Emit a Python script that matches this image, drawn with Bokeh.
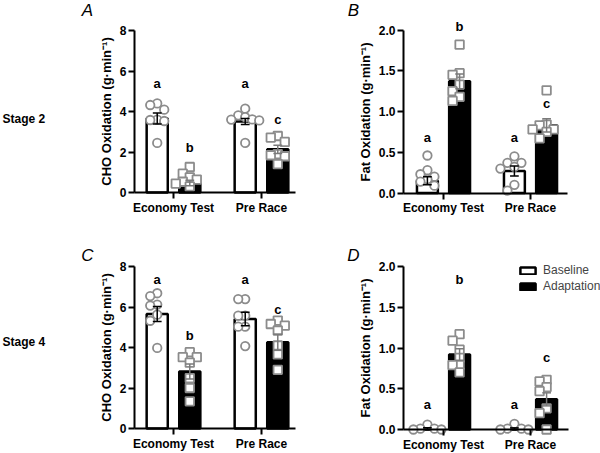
import numpy as np
from bokeh.plotting import figure
from bokeh.layouts import column, row
from bokeh.models import (Range1d, FixedTicker, Label, LabelSet, Legend, LegendItem,
                          NumeralTickFormatter, ColumnDataSource)
from bokeh.core.properties import value
from bokeh.embed import file_html
from bokeh.resources import INLINE

# ---------------- data ----------------
groups = ["Economy Test", "Pre Race"]
conditions = ["Baseline", "Adaptation"]

# Panel A: Stage 2, CHO oxidation (g/min)
A_base_mean = [3.65, 3.51]
A_base_sem = [0.27, 0.15]
A_adapt_mean = [0.47, 2.13]
A_adapt_sem = [0.14, 0.20]
A_base_econ = [4.40, 4.32, 4.09, 3.60, 3.58, 3.53, 2.45]
A_adapt_econ = [1.26, 0.93, 0.75, 0.64, 0.53, 0.44, 0.30]
A_base_pre = [4.14, 3.81, 3.72, 3.61, 3.60, 3.56, 2.45]
A_adapt_pre = [2.79, 2.71, 2.50, 1.90, 1.84, 1.79, 1.40]
A_letters_base = ["a", "a"]
A_letters_base_y = [5.37, 5.37]
A_letters_adapt = ["b", "c"]
A_letters_adapt_y = [2.20, 3.60]

# Panel B: Stage 2, Fat oxidation (g/min)
B_base_mean = [0.15, 0.27]
B_base_sem = [0.05, 0.06]
B_adapt_mean = [1.37, 0.83]
B_adapt_sem = [0.09, 0.08]
B_base_econ = [0.46, 0.28, 0.23, 0.20, 0.17, 0.14, 0.09]
B_adapt_econ = [1.82, 1.47, 1.45, 1.33, 1.25, 1.18, 1.13]
B_base_pre = [0.45, 0.37, 0.37, 0.32, 0.30, 0.10, 0.03]
B_adapt_pre = [1.26, 0.84, 0.83, 0.78, 0.78, 0.75, 0.67]
B_letters_base = ["a", "a"]
B_letters_base_y = [0.68, 0.68]
B_letters_adapt = ["b", "c"]
B_letters_adapt_y = [2.04, 1.10]

# Panel C: Stage 4, CHO oxidation (g/min)
C_base_mean = [5.66, 5.41]
C_base_sem = [0.37, 0.33]
C_adapt_mean = [2.82, 4.26]
C_adapt_sem = [0.37, 0.40]
C_base_econ = [6.68, 6.54, 6.12, 6.07, 5.62, 5.32, 3.98]
C_adapt_econ = [3.77, 3.52, 3.52, 3.25, 2.49, 2.00, 1.34]
C_base_pre = [6.39, 6.39, 5.57, 5.57, 5.03, 5.03, 4.07]
C_adapt_pre = [5.33, 5.16, 5.08, 4.84, 4.10, 3.66, 2.90]
C_letters_base = ["a", "a"]
C_letters_base_y = [7.34, 7.34]
C_letters_adapt = ["b", "c"]
C_letters_adapt_y = [4.59, 5.89]

# Panel D: Stage 4, Fat oxidation (g/min)
D_base_mean = [0.01, 0.01]
D_base_sem = [0.01, 0.01]
D_adapt_mean = [0.92, 0.37]
D_adapt_sem = [0.07, 0.08]
D_base_econ = [0.06, 0.01, 0.01, 0.00, 0.00]
D_adapt_econ = [1.17, 1.09, 0.98, 0.88, 0.79, 0.79, 0.70]
D_base_pre = [0.07, 0.01, 0.01, 0.00, 0.00]
D_adapt_pre = [0.61, 0.59, 0.52, 0.47, 0.26, 0.20, 0.00]
D_letters_base = ["a", "a"]
D_letters_base_y = [0.31, 0.31]
D_letters_adapt = ["b", "c"]
D_letters_adapt_y = [1.84, 0.88]

cho_ticks = [0, 2, 4, 6, 8]
fat_ticks = [0, 0.5, 1.0, 1.5, 2.0]
cho_label = "CHO Oxidation (g\u00b7min\u207b\u00b9)"
fat_label = "Fat Oxidation (g\u00b7min\u207b\u00b9)"

# ---------------- styling / geometry (pixels, local to each figure) ----------------
FONT = "Liberation Sans"
PT_GREY = "#8c8c8c"
BAR_W = 0.24
OFF = 0.185

# width, height, y-axis px, first-group px, px per group, axis-end px, y0 px, ytop px
GEO = {
    "A": dict(w=300, h=226, ax=134, g0=173, gstep=88, xend=295, y0=192, ytop=30),
    "B": dict(w=300, h=226, ax=103, g0=143, gstep=87, xend=267, y0=192.5, ytop=29.5),
    "C": dict(w=300, h=227, ax=134, g0=173, gstep=88, xend=295, y0=202, ytop=40),
    "D": dict(w=300, h=227, ax=103, g0=143, gstep=87, xend=268, y0=203, ytop=40),
}


def swarm(vals, x0, px_y, px_x, step=7.0, thr=6.8):
    placed = []
    out = [0.0] * len(vals)
    order = sorted(range(len(vals)), key=lambda i: -vals[i])
    for i in order:
        y = vals[i] * px_y
        xo = 0.0
        for k in [0, -1, 1, -2, 2, -3, 3, -4, 4]:
            xo = k * step
            if all((xo - a) ** 2 + (y - b) ** 2 >= thr ** 2 for a, b in placed):
                break
        placed.append((xo, y))
        out[i] = x0 + xo / px_x
    return out


def make_panel(key, ymax, ticks, ylabel, base_mean, base_sem, adapt_mean, adapt_sem,
               base_pts, adapt_pts, lb, lby, la, lay, fmt=None):
    g = GEO[key]
    px_x = g["gstep"]
    px_y = (g["y0"] - g["ytop"]) / ymax
    x_start = -g["g0"] / px_x
    x_end = (g["w"] - g["g0"]) / px_x
    y_start = -(g["h"] - g["y0"]) / px_y
    y_end = g["y0"] / px_y
    ax_x = (g["ax"] - g["g0"]) / px_x
    xend = (g["xend"] - g["g0"]) / px_x

    p = figure(width=g["w"], height=g["h"],
               x_range=Range1d(x_start, x_end), y_range=Range1d(y_start, y_end),
               output_backend="svg", toolbar_location=None,
               min_border_left=0, min_border_right=0, min_border_top=0, min_border_bottom=0)
    p.xgrid.visible = False
    p.ygrid.visible = False
    p.outline_line_color = None
    p.background_fill_color = "white"
    p.border_fill_color = "white"

    gx = list(range(len(groups)))
    xb = [gi - OFF for gi in gx]
    xa = [gi + OFF for gi in gx]

    rb = p.vbar(x=xb, top=base_mean, width=BAR_W, bottom=0, fill_color="white",
                line_color="black", line_width=2.5)
    ra = p.vbar(x=xa, top=adapt_mean, width=BAR_W, bottom=0, fill_color="black",
                line_color="black", line_width=2.5)

    # individual points
    bx, by, axp, ay = [], [], [], []
    for gi in gx:
        bx += swarm(base_pts[gi], xb[gi], px_y, px_x)
        by += list(base_pts[gi])
        axp += swarm(adapt_pts[gi], xa[gi], px_y, px_x)
        ay += list(adapt_pts[gi])
    p.scatter(bx, by, marker="circle", size=8.5, fill_color="white",
              line_color=PT_GREY, line_width=1.8)
    p.scatter(axp, ay, marker="square", size=8.5, fill_color="white",
              line_color=PT_GREY, line_width=1.8)

    # error bars (mean +/- SEM)
    cap = 0.05
    for xs, m, s, col in [(xb, base_mean, base_sem, "black"), (xa, adapt_mean, adapt_sem, "#7a7a7a")]:
        lo = [mi - si for mi, si in zip(m, s)]
        hi = [mi + si for mi, si in zip(m, s)]
        p.segment(x0=xs, y0=lo, x1=xs, y1=hi, line_color=col, line_width=1.5)
        p.segment(x0=[x - cap for x in xs], y0=hi, x1=[x + cap for x in xs], y1=hi,
                  line_color=col, line_width=1.5)
        p.segment(x0=[x - cap for x in xs], y0=lo, x1=[x + cap for x in xs], y1=lo,
                  line_color=col, line_width=1.5)

    # significance letters
    src = ColumnDataSource(dict(x=xb + xa, y=list(lby) + list(lay), t=list(lb) + list(la)))
    p.add_layout(LabelSet(x="x", y="y", text="t", source=src, text_align="center",
                          text_baseline="middle", text_font=value(FONT),
                          text_font_style="bold", text_font_size="13px",
                          text_color="black"))

    # axes drawn at fixed data locations
    for ax in (p.xaxis[0], p.yaxis[0]):
        ax.axis_line_width = 2
        ax.axis_line_color = "black"
        ax.major_tick_line_width = 2
        ax.major_tick_line_color = "black"
        ax.major_tick_out = 6
        ax.major_tick_in = 0
        ax.minor_tick_line_color = None
        ax.major_label_text_font = FONT
        ax.major_label_text_font_style = "bold"
        ax.major_label_text_font_size = "12px"
        ax.major_label_text_color = "black"
    p.xaxis.fixed_location = 0
    p.xaxis.bounds = (ax_x, xend)
    p.xaxis.ticker = FixedTicker(ticks=gx)
    p.xaxis.major_label_overrides = {gi: groups[gi] for gi in gx}
    p.xaxis.major_label_standoff = 2
    p.yaxis.fixed_location = ax_x
    p.yaxis.bounds = (0, ymax)
    p.yaxis.ticker = FixedTicker(ticks=ticks)
    p.yaxis.major_label_standoff = 2
    if fmt:
        p.yaxis.formatter = NumeralTickFormatter(format=fmt)
    p.yaxis.axis_label = ylabel
    p.yaxis.axis_label_text_font = FONT
    p.yaxis.axis_label_text_font_style = "bold"
    p.yaxis.axis_label_text_font_size = "13px"
    p.yaxis.axis_label_text_color = "black"
    p.yaxis.axis_label_standoff = 3
    return p, rb, ra


pA, _, _ = make_panel("A", 8, cho_ticks, cho_label, A_base_mean, A_base_sem,
                      A_adapt_mean, A_adapt_sem, [A_base_econ, A_base_pre],
                      [A_adapt_econ, A_adapt_pre], A_letters_base, A_letters_base_y,
                      A_letters_adapt, A_letters_adapt_y)
pB, _, _ = make_panel("B", 2.0, fat_ticks, fat_label, B_base_mean, B_base_sem,
                      B_adapt_mean, B_adapt_sem, [B_base_econ, B_base_pre],
                      [B_adapt_econ, B_adapt_pre], B_letters_base, B_letters_base_y,
                      B_letters_adapt, B_letters_adapt_y, fmt="0.0")
pC, _, _ = make_panel("C", 8, cho_ticks, cho_label, C_base_mean, C_base_sem,
                      C_adapt_mean, C_adapt_sem, [C_base_econ, C_base_pre],
                      [C_adapt_econ, C_adapt_pre], C_letters_base, C_letters_base_y,
                      C_letters_adapt, C_letters_adapt_y)
pD, rbD, raD = make_panel("D", 2.0, fat_ticks, fat_label, D_base_mean, D_base_sem,
                          D_adapt_mean, D_adapt_sem, [D_base_econ, D_base_pre],
                          [D_adapt_econ, D_adapt_pre], D_letters_base, D_letters_base_y,
                          D_letters_adapt, D_letters_adapt_y, fmt="0.0")

# panel letters and stage labels (screen px from each figure's bottom-left)
for p, letter, lx, ly in [(pA, "A", 87, 216), (pB, "B", 53, 216), (pC, "C", 87, 198), (pD, "D", 53, 198)]:
    p.add_layout(Label(x=lx, y=ly, x_units="screen", y_units="screen", text=letter,
                       text_align="center", text_baseline="middle", text_font=FONT,
                       text_font_style="italic", text_font_size="17px", text_color="black"))

pA.add_layout(Label(x=2, y=108, x_units="screen", y_units="screen", text="Stage 2",
                    text_baseline="middle", text_font=FONT, text_font_style="bold",
                    text_font_size="12px", text_color="black"))
pC.add_layout(Label(x=2, y=112, x_units="screen", y_units="screen", text="Stage 4",
                    text_baseline="middle", text_font=FONT, text_font_style="bold",
                    text_font_size="12px", text_color="black"))

legend = Legend(items=[LegendItem(label=conditions[0], renderers=[rbD]),
                       LegendItem(label=conditions[1], renderers=[raD])],
                location=(218, 160), glyph_width=19, glyph_height=9, label_standoff=6,
                spacing=2, padding=0, margin=0, border_line_color=None,
                background_fill_alpha=0, label_text_font=FONT, label_text_font_size="12px",
                label_height=13)
pD.add_layout(legend)

layout = column(row(pA, pB), row(pC, pD))
open("out.html", "w").write(file_html(layout, INLINE))
